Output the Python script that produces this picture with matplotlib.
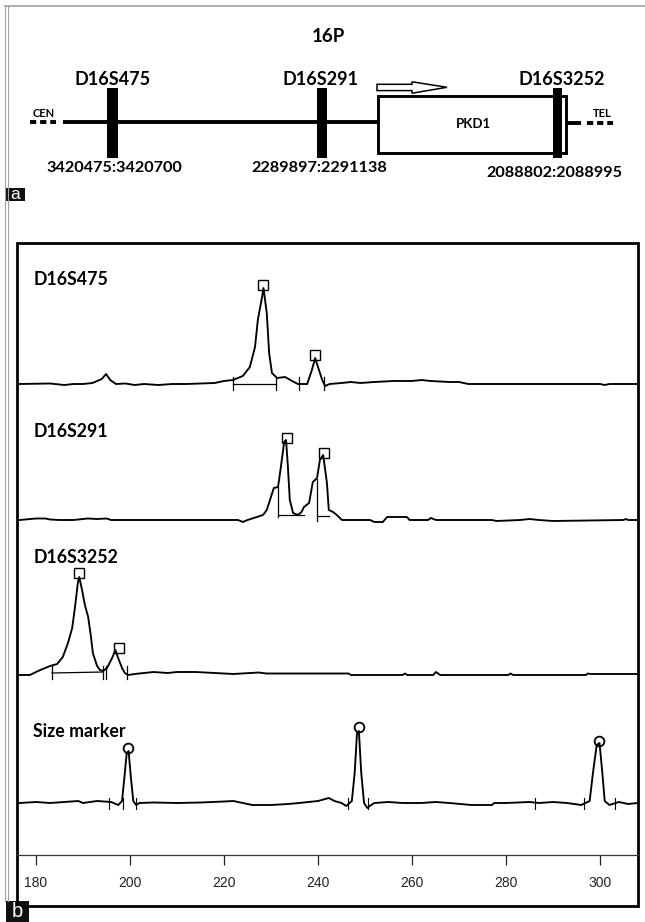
import matplotlib
matplotlib.use("Agg")
import matplotlib.pyplot as plt
from matplotlib.patches import Rectangle, Polygon

## dados do eletroferograma (tamanho em pb, altura relativa) ##
d16s475_bp = [176.5, 183, 186, 188, 190, 192, 194, 194.9, 195.8, 197, 199, 201, 203, 206, 209, 212,
              215, 218, 220, 221.9, 224, 225.5, 226.6, 227.2, 228.1, 228.4, 229.1, 229.6, 230.2, 231.3,
              233, 234.5, 235.7, 237.7, 238.7, 239.4, 240.0, 240.9, 241.5, 242.5, 245, 247, 249, 252,
              256, 260, 262, 264, 268, 270, 272, 280, 300, 301, 302, 308]
d16s475_rfu = [0, 0.5, -1, 0, 0, 1, 5, 10, 4, 0, 0.5, -1, 0, -1, 0, 0,
               0.5, 1, 3, 4, 8, 17, 37, 64, 87, 96, 71, 31, 11, 6,
               7, 3, 0, 0, 14, 26, 17, 4, -2, 0, 1, 2, 1, 2,
               3, 3, 4, 3, 2, 2, 0, 0, 0, -1, 0, 0]

d16s291_bp = [176.5, 180, 182, 183, 185, 188, 191, 193, 195, 196, 223, 224, 225, 228.3, 229.1, 230.6,
              231.5, 232.1, 232.8, 233.2, 233.6, 234.0, 234.7, 235.7, 236.5, 237.0, 238.1, 238.9, 239.8,
              240.4, 241.1, 241.9, 242.3, 243.2, 244.0, 245.1, 251.1, 252, 253.8, 254.7, 258.9, 259.5,
              263.4, 264, 265.1, 277, 278, 283, 285, 287, 290, 305, 305.5, 306, 308]
d16s291_rfu = [0, 1.5, 1.5, 0.5, 0, 0, 1.5, 1, 1.5, 0, 0, -2, 0, 5, 10, 32,
               33, 53, 78, 80, 53, 20, 7, 5, 8, 13, 17, 38, 42,
               60, 65, 37, 10, 8, 5, 0, 0, -2, -2, 3, 3, 0,
               0, 2, 0, 0, -1, 0, 1, 0, -1, 0, 1, 0, 0]

d16s3252_bp = [176.5, 178.7, 180.9, 183.0, 184.5, 185.7, 186.8, 187.7, 188.3, 188.9, 189.2, 189.8, 190.4,
               191.1, 191.7, 192.1, 193.0, 193.6, 194.3, 195.1, 196.2, 196.9, 197.4, 198.3, 198.9, 199.6,
               201, 203, 205, 208, 210, 214, 218, 222, 227.4, 229, 246.5, 247, 258, 258.5, 259, 264.5,
               265.1, 266, 280.5, 281, 281.5, 297, 297.4, 298, 308]
d16s3252_rfu = [-1, -1, 4, 8, 10, 17, 31, 46, 67, 91, 97, 84, 69,
                57, 37, 21, 8, 4, 3, 6, 16, 24, 17, 6, 1, -1,
                0, 1, 2, 1, 2, 2, 1, 0, 1.5, 0.5, 0.5, -1, -1, 0.5, -1, -1,
                2, -1, -1, 0.5, -1, -1, 0.5, 0, 0]

marker_bp = [176.5, 180, 183, 186, 189, 190, 193, 196, 197.5, 198.3, 198.8, 199.3, 199.7, 200.2, 200.7,
             201.3, 202, 205, 210, 215, 220, 222, 224, 226, 230, 233.6, 236, 238, 240, 242.3, 243.5,
             245, 246, 247.2, 247.8, 248.3, 248.7, 249.2, 249.8, 250.5, 251, 252, 255, 258, 262, 265,
             268, 272.6, 277, 277.5, 280, 285, 287, 290, 293, 296, 297.8, 298.5, 299.3, 299.9, 300.5,
             301, 302, 304, 306, 308]
marker_rfu = [0, 1, 0, 1, 2, 0, 2, 1, -2, 2, 25, 50, 52, 25, 2,
              -2, 0, 0.5, 0, 0.5, 1.5, 2, 0, -2, -2, -1, 0, 1, 2, 5, 2,
              0, -3, 2, 30, 70, 72, 30, 0, -5, -3, 0, 1, 0, 0, 1,
              0, -2, -2, 0, 0, 1, 0, 1, 0, -2, 2, 30, 58, 60, 30,
              2, -2, 1, -1, 0]

## picos marcados ##
d16s475_picos = [228.4, 239.4]
d16s475_alt = [99, 29]
d16s291_picos = [233.3, 241.2]
d16s291_alt = [82, 67]
d16s3252_picos = [189.2, 197.6]
d16s3252_alt = [101, 26]
marker_picos = [199.5, 248.7, 299.8]
marker_alt = [55, 76, 62]

## limites dos picos ##
d16s475_lim = [221.9, 231.1, 235.9, 241.3]
d16s3252_lim = [183.4, 194.3, 194.9, 199.4]
marker_lim = [195.5, 198.5, 201.3, 246.4, 250.6, 286.2, 296.6, 303.2]

nomes = ['D16S475', 'D16S291', 'D16S3252', 'Size marker']
xticks = [180, 200, 220, 240, 260, 280, 300]

## painel a ##
marcadores = ['D16S475', 'D16S291', 'D16S3252']
coordenadas = ['3420475:3420700', '2289897:2291138', '2088802:2088995']

fonte = 'Lato'

fig = plt.figure(figsize=(6.45, 9.22), dpi=100)
bg = fig.add_axes([0, 0, 1, 1])
bg.set_xlim(0, 645)
bg.set_ylim(922, 0)
bg.axis('off')

# moldura cinza
bg.plot([5, 645], [6.5, 6.5], color='#a0a0a0', lw=1.2)
bg.plot([4.5, 4.5], [6.5, 901], color='#a0a0a0', lw=0.8)
bg.plot([7.5, 7.5], [6.5, 901], color='#a0a0a0', lw=0.8)

# painel a - cromossomo
bg.plot([63, 377], [122, 122], color='black', lw=2.8, solid_capstyle='butt')
bg.plot([566, 581], [123, 123], color='black', lw=2.8, solid_capstyle='butt')
bg.plot([30, 56], [122, 122], color='black', lw=2.8, ls=(0, (1.6, 1.0)))
bg.plot([587, 613], [123, 123], color='black', lw=2.8, ls=(0, (1.6, 1.0)))
bg.add_patch(Rectangle((377.5, 96.5), 188, 56.5, fill=False, ec='black', lw=2.1))
bg.add_patch(Polygon([(377, 84.3), (412, 84.3), (412, 81.8), (447, 87.3), (412, 93.2),
                      (412, 90.6), (377, 90.6)], closed=True, fc='white', ec='black', lw=1.1))

barras_x = [107, 317, 553]
barras_w = [11, 10, 9]
rot_x = [113, 321, 562]
num_x = [114, 319, 554]
num_y = [168, 168, 173]
for i in range(3):
    bg.add_patch(Rectangle((barras_x[i], 88.5), barras_w[i], 70, fc='black', ec='none'))
    bg.text(rot_x[i], 85, marcadores[i], ha='center', va='baseline', fontsize=13,
            fontweight='bold', family=fonte)
    bg.text(num_x[i], num_y[i], coordenadas[i], ha='center', va='center', fontsize=11.7,
            fontweight='bold', family=fonte)

bg.text(328, 42, '16P', ha='center', va='baseline', fontsize=13.5, fontweight='bold', family=fonte)
bg.text(44, 117, 'CEN', ha='center', va='baseline', fontsize=8, fontweight='bold', family=fonte)
bg.text(602, 117, 'TEL', ha='center', va='baseline', fontsize=8, fontweight='bold', family=fonte)
bg.text(473, 124, 'PKD1', ha='center', va='center', fontsize=9.5, fontweight='bold', family=fonte)

# caixas a / b
bg.add_patch(Rectangle((5, 188), 20, 13, fc='#111111', ec='none'))
bg.text(15, 194, 'a', color='white', ha='center', va='center', fontsize=12.5, family='Liberation Sans')
bg.add_patch(Rectangle((6, 901), 23, 21, fc='#111111', ec='none'))
bg.text(17.5, 911, 'b', color='white', ha='center', va='center', fontsize=14.5, family='Liberation Sans')

# moldura do painel b
bg.add_patch(Rectangle((17, 243), 621, 663, fill=False, ec='black', lw=2.0))

## painel b ##
ax = fig.add_axes([17 / 645, (922 - 855) / 922, 621 / 645, (855 - 243) / 922])
ax.patch.set_alpha(0)
ax.set_xlim(180 - 19 / 4.7, 300 + 38 / 4.7)
ax.set_ylim(0, 612)

bases = [471, 335, 181, 52]
tracos = [(d16s475_bp, d16s475_rfu), (d16s291_bp, d16s291_rfu),
          (d16s3252_bp, d16s3252_rfu), (marker_bp, marker_rfu)]
for b, (xs, ys) in zip(bases, tracos):
    ax.plot(xs, [b + y for y in ys], color='black', lw=1.35)

rot_y = [570, 418, 292, 118]
for b, nome, ry in zip(bases, nomes, rot_y):
    ax.text(179.4, ry, nome, ha='left', va='baseline', fontsize=12.8, fontweight='bold', family=fonte)

# marcadores dos picos
quad = dict(marker='s', ms=6.5, mfc='none', mec='black', mew=1.0, ls='none')
ax.plot(d16s475_picos, [bases[0] + h for h in d16s475_alt], **quad)
ax.plot(d16s291_picos, [bases[1] + h for h in d16s291_alt], **quad)
ax.plot(d16s3252_picos, [bases[2] + h for h in d16s3252_alt], **quad)
ax.plot(marker_picos, [bases[3] + h for h in marker_alt], marker='o', ms=7, mfc='none',
        mec='black', mew=1.3, ls='none')

# limites e linhas de base dos picos
for x in d16s475_lim:
    ax.plot([x, x], [bases[0] - 6, bases[0] + 7], color='black', lw=0.9)
ax.plot([d16s475_lim[0], d16s475_lim[1]], [bases[0], bases[0]], color='black', lw=0.9)
for x in d16s3252_lim:
    ax.plot([x, x], [bases[2] - 5, bases[2] + 8], color='black', lw=0.9)
ax.plot([d16s3252_lim[0], d16s3252_lim[1]], [bases[2] + 1, bases[2] + 2], color='black', lw=0.9)
for x in marker_lim:
    ax.plot([x, x], [bases[3] - 6, bases[3] + 5], color='black', lw=0.8)
ax.plot([231.5, 231.5], [bases[1] + 3, bases[1] + 33], color='black', lw=0.9)
ax.plot([231.5, 237.0], [bases[1] + 5, bases[1] + 5], color='black', lw=0.9)
ax.plot([239.8, 239.8], [bases[1] - 1, bases[1] + 41], color='black', lw=0.9)
ax.plot([239.8, 242.3], [bases[1] + 4, bases[1] + 4], color='black', lw=0.9)

for s in ['top', 'left', 'right']:
    ax.spines[s].set_visible(False)
ax.spines['bottom'].set_linewidth(0.9)
ax.spines['bottom'].set_color('#333333')
ax.set_yticks([])
ax.set_xticks(xticks)
ax.tick_params(axis='x', direction='out', length=7, width=0.9, pad=8, labelsize=10,
               colors='#222222')
for t in ax.get_xticklabels():
    t.set_family('Liberation Sans')

fig.savefig('out.png', dpi=100)
